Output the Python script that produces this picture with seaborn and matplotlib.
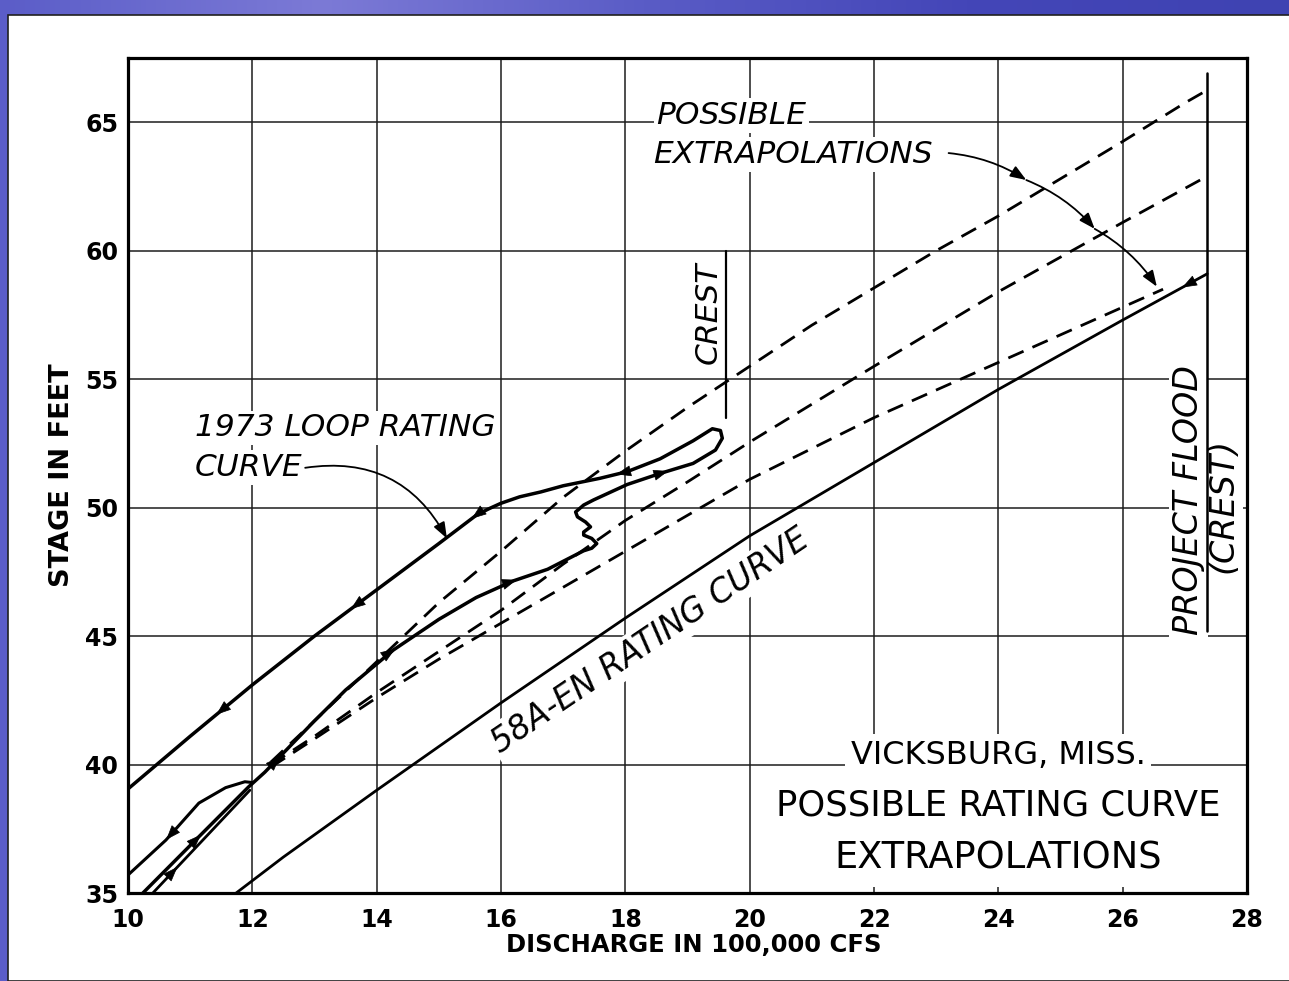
import numpy as np
import matplotlib
matplotlib.use('Agg')
import matplotlib.pyplot as plt
import seaborn as sns
from matplotlib.patches import Rectangle
from matplotlib.colors import LinearSegmentedColormap

# discharge in 100,000 cfs, stage in feet
rating_58a_q = [11.74, 12.5, 14.0, 16.0, 18.0, 20.0, 22.0, 24.0, 26.0, 27.36]
rating_58a_stage = [35.0, 36.4, 39.0, 42.4, 45.7, 48.9, 51.75, 54.6, 57.3, 59.1]

# 1973 loop: rising limb -> crest loop -> falling limb
loop_q = [10.24, 11.0, 11.94, 12.2, 12.5, 13.0, 13.5, 14.27, 15.0, 15.6, 16.2, 16.75, 17.33,
          17.46, 17.54, 17.46, 17.33, 17.33, 17.44, 17.36, 17.23, 17.2, 17.33, 17.49, 18.03,
          18.56, 19.09, 19.45, 19.56, 19.53, 19.40, 19.09, 18.56, 18.03, 17.59, 17.0, 16.64,
          16.3, 16.0, 15.8, 15.6, 15.0, 14.0, 13.0, 12.0, 11.0, 10.0]
loop_stage = [35.0, 36.85, 39.13, 39.7, 40.45, 41.7, 42.9, 44.46, 45.65, 46.5, 47.15, 47.6, 48.32,
              48.42, 48.6, 48.8, 48.93, 49.05, 49.25, 49.44, 49.64, 49.83, 50.1, 50.3, 50.9,
              51.33, 51.72, 52.24, 52.7, 53.0, 53.07, 52.6, 51.9, 51.4, 51.14, 50.85, 50.61,
              50.42, 50.17, 49.95, 49.7, 48.6, 46.8, 45.0, 43.1, 41.1, 39.05]

low_fall_q = [12.0, 11.88, 11.57, 11.14, 10.61, 10.0]
low_fall_stage = [39.3, 39.33, 39.1, 38.5, 37.06, 35.7]
low_rise_q = [10.4, 11.2, 11.96]
low_rise_stage = [35.0, 37.05, 39.0]

ext_a_q = [12.3, 13.0, 14.0, 15.0, 16.0, 17.0, 18.0, 19.0, 20.0, 21.0, 22.0, 23.0, 24.0, 25.0, 26.0, 27.0, 27.36]
ext_a_stage = [40.1, 41.7, 44.0, 46.3, 48.3, 50.4, 52.2, 53.9, 55.5, 57.1, 58.55, 60.0, 61.35, 62.8, 64.25, 65.75, 66.25]
ext_b_q = [12.3, 13.0, 14.0, 15.0, 16.0, 17.0, 18.0, 19.0, 20.0, 22.0, 24.0, 26.0, 27.36]
ext_b_stage = [40.0, 41.1, 42.8, 44.4, 46.0, 47.8, 49.5, 51.0, 52.55, 55.5, 58.4, 61.1, 62.9]
ext_c_q = [12.3, 13.0, 14.0, 15.0, 16.0, 17.0, 18.0, 19.0, 20.0, 22.0, 24.0, 26.65]
ext_c_stage = [39.9, 41.0, 42.6, 44.1, 45.5, 46.9, 48.3, 49.7, 51.1, 53.5, 55.65, 58.5]

crest_q = 19.62
crest_stage = [53.5, 60.0]
project_flood_q = 27.36
project_flood_stage = [45.2, 66.9]

x_ticks = list(range(10, 29, 2))
y_ticks = list(range(35, 66, 5))

sns.set_style('white')
plt.rcParams['font.family'] = ['DejaVu Sans']
plt.rcParams['text.color'] = 'black'
plt.rcParams['axes.labelcolor'] = 'black'
plt.rcParams['xtick.color'] = 'black'
plt.rcParams['ytick.color'] = 'black'

W, H = 1289, 981
fig = plt.figure(figsize=(W / 100, H / 100), dpi=100)

# slide background: blue band with white sheet
bg = fig.add_axes([0, 0, 1, 1], zorder=-5)
grad = np.linspace(0, 1, 256).reshape(1, -1)
cmap = LinearSegmentedColormap.from_list('slide', ['#5b5dc8', '#7c7ad6', '#5a5cc6', '#4446b8', '#3f43b2'])
bg.imshow(grad, aspect='auto', cmap=cmap, extent=[0, 1, 0, 1])
bg.add_patch(Rectangle((8 / W, 0), 1, 1 - 15 / H, transform=bg.transAxes,
                       facecolor='white', edgecolor='#202020', lw=1.2))
bg.set_xlim(0, 1)
bg.set_ylim(0, 1)
bg.axis('off')

ax = fig.add_axes([128 / W, 1 - 893 / H, (1247 - 128) / W, (893 - 58) / H])
ax.set_facecolor('none')

sns.lineplot(x=rating_58a_q, y=rating_58a_stage, sort=False, estimator=None, color='black', lw=2.0, ax=ax, zorder=4)
sns.lineplot(x=loop_q, y=loop_stage, sort=False, estimator=None, color='black', lw=2.5, ax=ax, zorder=4)
sns.lineplot(x=low_fall_q, y=low_fall_stage, sort=False, estimator=None, color='black', lw=2.2, ax=ax, zorder=4)
sns.lineplot(x=low_rise_q, y=low_rise_stage, sort=False, estimator=None, color='black', lw=2.0, ax=ax, zorder=4)
for q, s in [(ext_a_q, ext_a_stage), (ext_b_q, ext_b_stage), (ext_c_q, ext_c_stage)]:
    sns.lineplot(x=q, y=s, sort=False, estimator=None, color='black', lw=2.0,
                 linestyle=(0, (6, 3.5)), ax=ax, zorder=4)
sns.lineplot(x=[crest_q, crest_q], y=crest_stage, estimator=None, color='black', lw=1.6, ax=ax, zorder=4)
sns.lineplot(x=[project_flood_q, project_flood_q], y=project_flood_stage, estimator=None,
             color='black', lw=1.8, ax=ax, zorder=4)

ax.set_xlim(10, 28)
ax.set_ylim(35, 67.5)
ax.set_xticks(x_ticks)
ax.set_yticks(y_ticks)
ax.grid(True, color='#1c1c1c', lw=1.1)
ax.set_axisbelow(True)
for sp in ax.spines.values():
    sp.set_color('black')
    sp.set_linewidth(2.3)
ax.tick_params(length=0)
ax.tick_params(axis='x', pad=11)
ax.tick_params(axis='y', pad=7)
for lab in ax.get_xticklabels() + ax.get_yticklabels():
    lab.set_fontsize(17)
    lab.set_fontweight('bold')
ax.set_xlabel('DISCHARGE IN 100,000 CFS', fontsize=17.5, fontweight='bold')
ax.set_ylabel('STAGE IN FEET', fontsize=19.5, fontweight='bold')
ax.xaxis.set_label_coords(0.506, -0.062)
ax.xaxis.label.set_va('center')
ax.yaxis.set_label_coords(-0.059, 0.5)
ax.yaxis.label.set_va('center')


def arrow_on(xs, ys, x0, y0, reverse=False, back=13):
    pts = ax.transData.transform(np.column_stack([xs, ys]))
    p0 = ax.transData.transform((x0, y0))
    best = None
    for i in range(len(pts) - 1):
        a, b = pts[i], pts[i + 1]
        d = b - a
        t = np.clip(np.dot(p0 - a, d) / np.dot(d, d), 0, 1)
        pr = a + t * d
        dist = np.hypot(*(pr - p0))
        if best is None or dist < best[0]:
            best = (dist, pr, d / np.hypot(*d))
    _, tip, u = best
    if reverse:
        u = -u
    tail = tip - u * back
    inv = ax.transData.inverted()
    ax.annotate('', xy=inv.transform(tip), xytext=inv.transform(tail),
                arrowprops=dict(arrowstyle='-|>,head_length=0.8,head_width=0.3', color='black',
                                lw=0.5, shrinkA=0, shrinkB=0, mutation_scale=12), zorder=5)


for x0, y0 in [(11.16, 37.3), (12.45, 40.3), (14.3, 44.5), (16.25, 47.2), (18.71, 51.26),
               (17.86, 51.25), (15.52, 49.6), (13.57, 46.1), (11.4, 42.0)]:
    arrow_on(loop_q, loop_stage, x0, y0)
arrow_on(low_fall_q, low_fall_stage, 10.62, 37.06)
arrow_on(low_rise_q, low_rise_stage, 10.8, 36.0)
arrow_on(rating_58a_q, rating_58a_stage, 26.95, 58.6, reverse=True)

white = dict(facecolor='white', edgecolor='none', pad=2)
ital = dict(style='italic', fontsize=22.5, color='black', zorder=3)

ax.text(18.5, 65.27, 'POSSIBLE', ha='left', va='center', bbox=white, **ital)
ax.text(18.45, 63.75, 'EXTRAPOLATIONS', ha='left', va='center', bbox=white, **ital)
lead = [(23.2, 63.8), (24.45, 62.75), (25.55, 60.85), (26.55, 58.6)]
for p, q in zip(lead[:-1], lead[1:]):
    ax.annotate('', xy=q, xytext=p, zorder=5,
                arrowprops=dict(arrowstyle='-|>,head_length=0.8,head_width=0.3', color='black',
                                lw=1.3, shrinkA=0, shrinkB=0, mutation_scale=12,
                                connectionstyle='arc3,rad=-0.12'))

ax.text(11.08, 53.1, '1973 LOOP RATING', ha='left', va='center', bbox=white, **ital)
ax.text(11.08, 51.55, 'CURVE', ha='left', va='center', bbox=white, **ital)
ax.annotate('', xy=(15.13, 48.8), xytext=(12.85, 51.55), zorder=5,
            arrowprops=dict(arrowstyle='-|>,head_length=0.8,head_width=0.3', color='black',
                            lw=1.3, shrinkA=0, shrinkB=0, mutation_scale=12,
                            connectionstyle='arc3,rad=-0.35'))

ax.text(19.33, 57.6, 'CREST', rotation=90, ha='center', va='center', bbox=white, **ital)
ax.text(27.06, 50.3, 'PROJECT FLOOD', rotation=90, ha='center', va='center', bbox=white,
        **{**ital, 'fontsize': 24})
ax.text(27.62, 50.1, '(CREST)', rotation=90, ha='center', va='center', bbox=white,
        **{**ital, 'fontsize': 24})
ax.text(18.4, 44.8, '58A-EN RATING CURVE', rotation=34, rotation_mode='anchor',
        ha='center', va='center', bbox=white, **{**ital, 'fontsize': 23.5})

ax.add_patch(Rectangle((20.45, 35.25), 7.45, 4.55, facecolor='white', edgecolor='none', zorder=1))
ax.text(24.0, 40.37, 'VICKSBURG, MISS.', ha='center', va='center', fontsize=23,
        zorder=3, bbox=dict(facecolor='white', edgecolor='none', pad=4))
ax.text(24.0, 38.39, 'POSSIBLE RATING CURVE', ha='center', va='center', fontsize=25.5, zorder=3)
ax.text(24.0, 36.36, 'EXTRAPOLATIONS', ha='center', va='center', fontsize=26.5, zorder=3)

fig.savefig('out.png', dpi=100)
